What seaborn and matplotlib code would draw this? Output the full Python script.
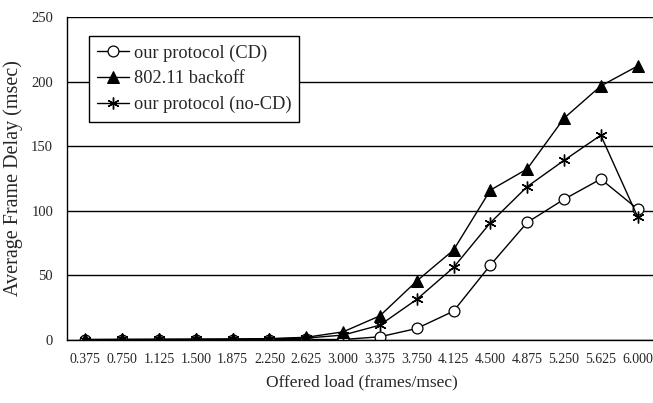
import matplotlib
matplotlib.use('Agg')
import matplotlib.pyplot as plt
import numpy as np
import pandas as pd
import seaborn as sns

loads = ['0.375', '0.750', '1.125', '1.500', '1.875', '2.250', '2.625', '3.000',
         '3.375', '3.750', '4.125', '4.500', '4.875', '5.250', '5.625', '6.000']

cd_delay = [0.3, 0.3, 0.4, 0.4, 0.4, 0.4, 0.5, 0.5,
            2.6, 9.0, 22.4, 58.0, 91.0, 108.9, 124.6, 101.4]
backoff_delay = [0.5, 0.6, 0.7, 0.8, 0.9, 1.2, 2.2, 6.4,
                 18.8, 45.7, 69.7, 116.0, 132.4, 171.6, 196.6, 212.0]
nocd_delay = [0.4, 0.5, 0.5, 0.6, 0.7, 0.9, 1.6, 3.9,
              11.6, 31.5, 56.2, 90.8, 118.7, 139.0, 158.5, 95.5]

series = ['our protocol (CD)', '802.11 backoff', 'our protocol (no-CD)']

df = pd.DataFrame({
    'load': loads * 3,
    'delay': cd_delay + backoff_delay + nocd_delay,
    'series': np.repeat(series, len(loads)),
})

sns.set_style('white')
plt.rcParams['font.family'] = ['Liberation Serif', 'DejaVu Serif']

fig = plt.figure(figsize=(6.53, 4.03), dpi=100)
ax = fig.add_axes([0.1026, 0.156, 0.902, 0.802])

styles = {
    'our protocol (CD)': dict(marker='o', markersize=7.8, markerfacecolor='white',
                              markeredgecolor='black', markeredgewidth=0.9),
    '802.11 backoff': dict(marker='^', markersize=8, markerfacecolor='black',
                           markeredgecolor='black'),
    'our protocol (no-CD)': dict(marker=(6, 2, 0), markersize=8.5,
                                 markeredgecolor='black', markeredgewidth=1.0),
}

for name in series:
    sub = df[df['series'] == name]
    sns.lineplot(data=sub, x='load', y='delay', ax=ax, color='black',
                 linewidth=1.0, sort=False, label=name, **styles[name])

ax.set_xlim(-0.5, len(loads) - 0.5)
ax.set_ylim(0, 250)
ax.set_yticks(range(0, 251, 50))
ax.yaxis.grid(True, color='black', linewidth=1.0)
ax.set_axisbelow(True)

ax.set_xticks(np.arange(len(loads)))
ax.set_xticklabels(loads)
ax.set_xticks(np.arange(len(loads) + 1) - 0.5, minor=True)
ax.tick_params(axis='x', which='major', length=0, pad=9, labelsize=10)
ax.tick_params(axis='x', which='minor', direction='in', length=5,
               width=1.0, color='black')
ax.tick_params(axis='y', length=0, pad=10, labelsize=10.5)

for side in ['top', 'right']:
    ax.spines[side].set_visible(False)
for side in ['left', 'bottom']:
    ax.spines[side].set_color('black')
    ax.spines[side].set_linewidth(1.0)

ax.set_xlabel('Offered load (frames/msec)', fontsize=12.5, labelpad=6)
ax.set_ylabel('Average Frame Delay (msec)', fontsize=14.5, labelpad=6)

leg = ax.legend(loc='upper left', bbox_to_anchor=(0.037, 0.94), fontsize=13.2,
                frameon=True, fancybox=False, framealpha=1, edgecolor='black',
                handlelength=1.75, handletextpad=0.25, borderpad=0.45,
                labelspacing=0.47, borderaxespad=0)
leg.get_frame().set_linewidth(1.0)

fig.savefig('out.png', dpi=100)
